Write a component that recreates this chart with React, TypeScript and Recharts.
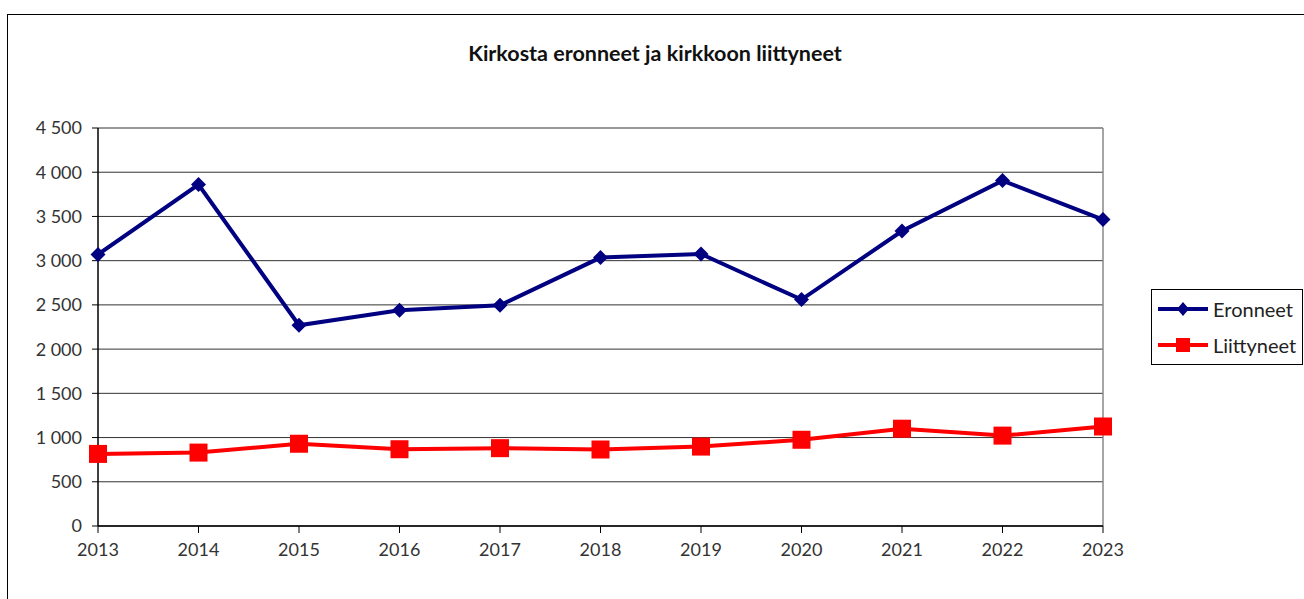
import React from "react";
import { LineChart, Line, XAxis, YAxis, CartesianGrid, ReferenceLine } from "recharts";

const years = ["2013", "2014", "2015", "2016", "2017", "2018", "2019", "2020", "2021", "2022", "2023"];
const eronneet = [3070, 3860, 2270, 2440, 2495, 3035, 3075, 2560, 3335, 3905, 3465];
const liittyneet = [815, 830, 930, 868, 880, 865, 898, 975, 1100, 1022, 1125];
const yTicks = [0, 500, 1000, 1500, 2000, 2500, 3000, 3500, 4000, 4500];
const seriesNames = ["Eronneet", "Liittyneet"];

const data = years.map((y, i) => ({ year: y, Eronneet: eronneet[i], Liittyneet: liittyneet[i] }));

const FONT = "Lato, 'Open Sans', sans-serif";
const NAVY = "#000080";
const RED = "#FF0000";

const fmt = (v: number) =>
  v >= 1000 ? `${Math.floor(v / 1000)} ${String(v % 1000).padStart(3, "0")}` : String(v);

const Diamond = (props: any) => {
  const { cx, cy } = props;
  if (cx == null || cy == null) return null;
  const r = 7.5;
  return <polygon points={`${cx},${cy - r} ${cx + r},${cy} ${cx},${cy + r} ${cx - r},${cy}`} fill={NAVY} />;
};

const Square = (props: any) => {
  const { cx, cy } = props;
  if (cx == null || cy == null) return null;
  const s = 9;
  return <rect x={cx - s} y={cy - s} width={2 * s} height={2 * s} fill={RED} />;
};

const LegendBox = () => (
  <div
    style={{
      position: "absolute",
      left: 1151,
      top: 289,
      border: "1px solid #000",
      width: 152,
      height: 76,
      boxSizing: "border-box",
      fontFamily: FONT,
      fontSize: 20,
      color: "#222",
      background: "#fff",
    }}
  >
    <div style={{ display: "flex", alignItems: "center", height: 36, marginTop: 1 }}>
      <svg width={58} height={20} style={{ marginLeft: 3 }}>
        <line x1={3} y1={10} x2={53} y2={10} stroke={NAVY} strokeWidth={4} />
        <polygon points="28,3 34,10 28,17 22,10" fill={NAVY} />
      </svg>
      <span>{seriesNames[0]}</span>
    </div>
    <div style={{ display: "flex", alignItems: "center", height: 36 }}>
      <svg width={58} height={20} style={{ marginLeft: 3 }}>
        <line x1={3} y1={10} x2={53} y2={10} stroke={RED} strokeWidth={4} />
        <rect x={21} y={3} width={14} height={14} fill={RED} />
      </svg>
      <span>{seriesNames[1]}</span>
    </div>
  </div>
);

export default function App() {
  return (
    <div style={{ position: "absolute", left: 0, top: 0, width: 1304, height: 599, overflow: "hidden", background: "#fff" }}>
      <div
        style={{
          position: "absolute",
          left: 7,
          top: 14,
          width: 1320,
          height: 620,
          border: "1px solid #000",
        }}
      />
      <div
        style={{
          position: "absolute",
          left: 0,
          width: 1310,
          top: 40,
          textAlign: "center",
          fontFamily: FONT,
          fontWeight: 700,
          fontSize: 21.5,
          color: "#111",
        }}
      >
        Kirkosta eronneet ja kirkkoon liittyneet
      </div>
      <div style={{ position: "absolute", left: 0, top: 0 }}>
        <LineChart width={1304} height={599} data={data} margin={{ top: 128, right: 201, left: 0, bottom: 43 }}>
          <CartesianGrid vertical={false} stroke="#333" strokeWidth={1} />
          <XAxis
            dataKey="year"
            axisLine={{ stroke: "#000", strokeWidth: 1.5 }}
            tickLine={{ stroke: "#000" }}
            tickSize={7}
            tickMargin={10}
            height={30}
            interval={0}
            tick={{ fontFamily: FONT, fontSize: 18, fill: "#333" }}
          />
          <YAxis
            domain={[0, 4500]}
            ticks={yTicks}
            width={98}
            tickFormatter={fmt}
            axisLine={{ stroke: "#000", strokeWidth: 1.5 }}
            tickLine={{ stroke: "#000" }}
            tickSize={6}
            tickMargin={10}
            interval={0}
            tick={{ fontFamily: FONT, fontSize: 18, fill: "#333" }}
          />
          <ReferenceLine y={4500} stroke="#999" strokeWidth={1.5} />
          <ReferenceLine x="2023" stroke="#888" strokeWidth={1.5} />
          <Line
            dataKey="Eronneet"
            stroke={NAVY}
            strokeWidth={4}
            dot={<Diamond />}
            activeDot={false}
            isAnimationActive={false}
          />
          <Line
            dataKey="Liittyneet"
            stroke={RED}
            strokeWidth={4}
            dot={<Square />}
            activeDot={false}
            isAnimationActive={false}
          />
        </LineChart>
      </div>
      <LegendBox />
    </div>
  );
}
